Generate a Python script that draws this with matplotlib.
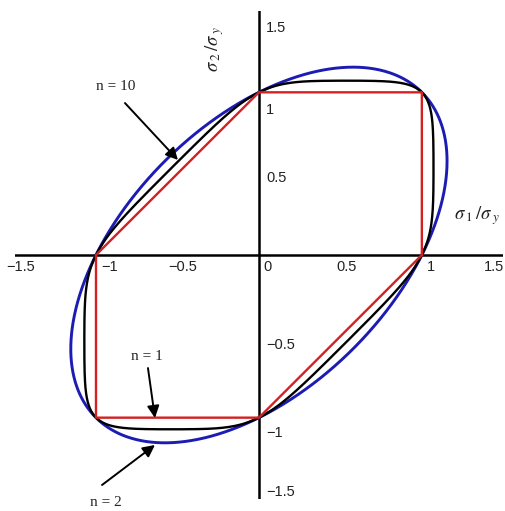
#!/usr/bin/env python3
"""Hosford yield loci in the sigma_1 / sigma_2 plane for several exponents."""

import numpy as np
import matplotlib.pyplot as plt

# Hosford exponents drawn, with their line colours and widths
EXPONENTS = [2, 10, 1]
COLORS = ["#1c1cb4", "#000000", "#d42020"]
WIDTHS = [2.1, 1.7, 1.7]

TICK_VALUES = [-1.5, -1.0, -0.5, 0.0, 0.5, 1.0, 1.5]
X_TICK_LABELS = ["\u22121.5", "\u22121", "\u22120.5", "0", "0.5", "1", "1.5"]
Y_TICK_VALUES = [1.5, 1.0, 0.5, -0.5, -1.0, -1.5]
Y_TICK_LABELS = ["1.5", "1", "0.5", "\u22120.5", "\u22121", "\u22121.5"]

ANNOTATIONS = ["n = 10", "n = 1", "n = 2"]


def hosford_locus(n, num=1441):
    """|s1|^n + |s2|^n + |s1 - s2|^n = 2 (stresses normalised by sigma_y)."""
    theta = np.linspace(0.0, 2.0 * np.pi, num)
    c, s = np.cos(theta), np.sin(theta)
    g = np.abs(c) ** n + np.abs(s) ** n + np.abs(c - s) ** n
    r = (2.0 / g) ** (1.0 / n)
    return r * c, r * s


plt.rcParams["mathtext.fontset"] = "stix"

fig = plt.figure(figsize=(5.06, 5.11), dpi=100)
ax = fig.add_axes([0.0287, 0.0235, 0.966, 0.955])
ax.set_xlim(-1.5, 1.5)
ax.set_ylim(-1.5, 1.5)
ax.set_axis_off()

ax.axhline(0, color="black", lw=1.8, zorder=1)
ax.axvline(0, color="black", lw=1.8, zorder=1)

for n, col, lw in zip(EXPONENTS, COLORS, WIDTHS):
    x, y = hosford_locus(n)
    ax.plot(x, y, color=col, lw=lw, zorder=2)

tick_font = dict(family="Liberation Sans", fontsize=10.5, color="#222222")

# x tick labels sit just below the axis, a little right of each tick;
# the last one is pulled in so it stays on the canvas
for v, lab in zip(TICK_VALUES, X_TICK_LABELS):
    if v == TICK_VALUES[-1]:
        ax.text(v + 0.005, -0.075, lab, ha="right", va="center", **tick_font)
    elif float(v).is_integer():
        ax.text(v + 0.03, -0.075, lab, ha="left", va="center", **tick_font)
    else:
        ax.text(v + 0.035, -0.075, lab, ha="center", va="center", **tick_font)

# y tick labels to the right of the vertical axis
y_nudge = [-0.105, -0.11, -0.027, -0.053, -0.094, 0.043]
for v, lab, dy in zip(Y_TICK_VALUES, Y_TICK_LABELS, y_nudge):
    ax.text(0.045, v + dy, lab, ha="left", va="center", **tick_font)

ax.text(1.2, 0.24, r"$\sigma_{\;1}\,/\sigma_{\;y}$", fontsize=13.5,
        ha="left", va="center", color="#222222")
ax.text(-0.27, 1.27, r"$\sigma_{\;2}\,/\sigma_{\;y}$", fontsize=13.5,
        rotation=90, ha="center", va="center", color="#222222")

arrow = dict(arrowstyle="-|>", color="black", lw=1.4, mutation_scale=18,
             shrinkA=0, shrinkB=0)
label_font = dict(family="Liberation Serif", fontsize=11, color="#222222")

ax.text(-0.877, 1.033, ANNOTATIONS[0], ha="center", va="center", **label_font)
ax.annotate("", xy=(-0.497, 0.584), xytext=(-0.822, 0.934), arrowprops=arrow)

ax.text(-0.687, -0.627, ANNOTATIONS[1], ha="center", va="center", **label_font)
ax.annotate("", xy=(-0.638, -1.002), xytext=(-0.681, -0.695), arrowprops=arrow)

ax.text(-0.939, -1.524, ANNOTATIONS[2], ha="center", va="center", **label_font)
ax.annotate("", xy=(-0.638, -1.168), xytext=(-0.963, -1.414), arrowprops=arrow)

fig.savefig("out.png", dpi=100)
plt.close(fig)
